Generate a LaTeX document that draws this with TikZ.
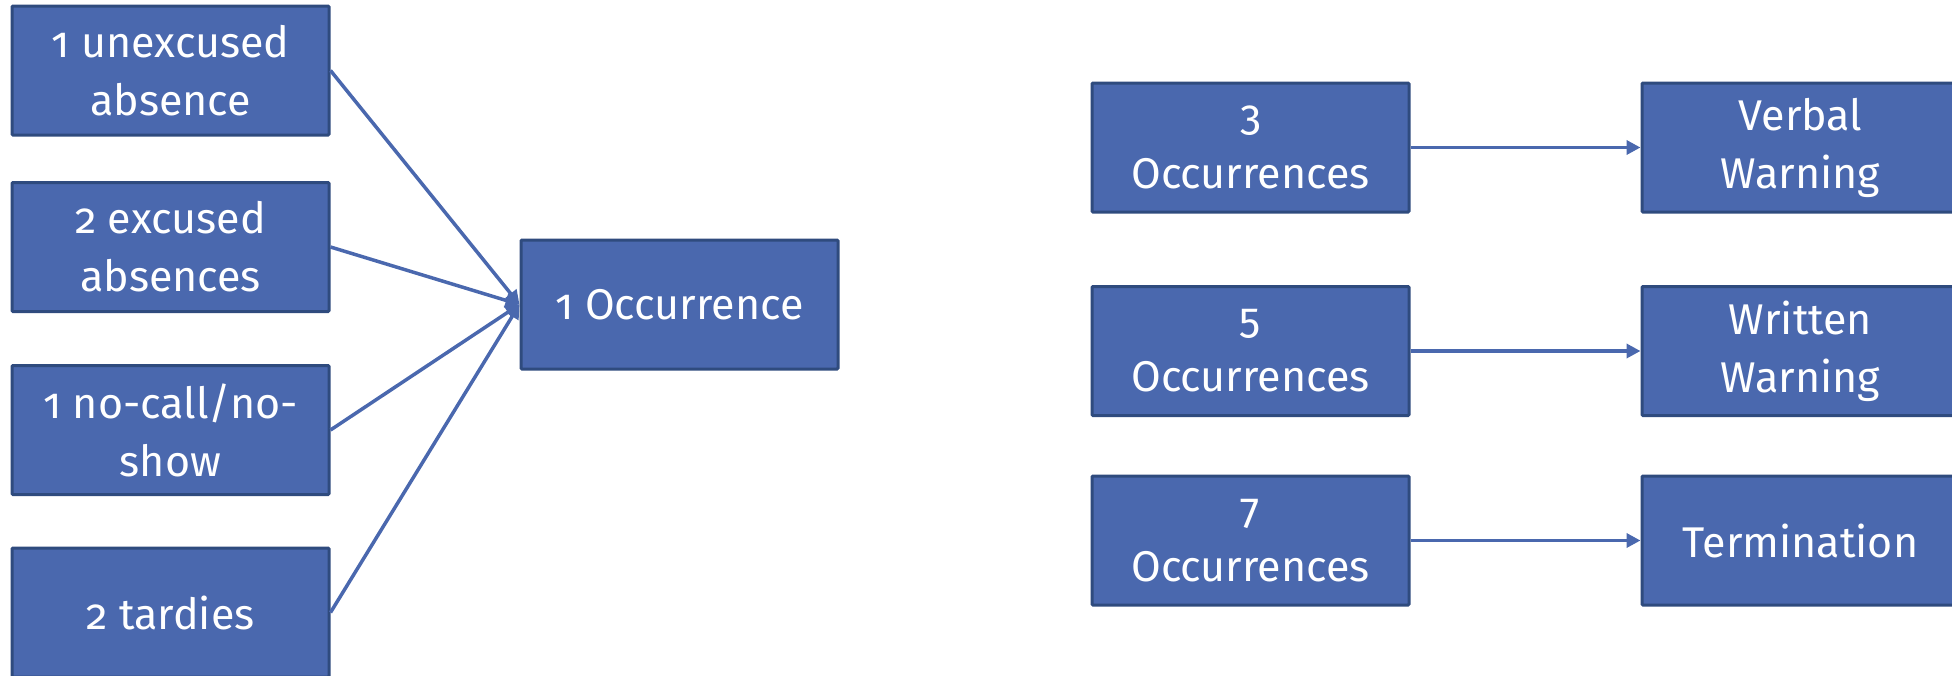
\documentclass[tikz,border=0pt]{standalone}
\usepackage{fontspec}
\setmainfont[Numbers=OldStyle]{Fira Sans}
\usetikzlibrary{arrows.meta}
\definecolor{boxfill}{HTML}{4A68AE}
\definecolor{boxline}{HTML}{2F4B7E}
\definecolor{conn}{HTML}{4A68AE}
\tikzset{
  x=1pt, y=-1pt,
  stepbox/.style={draw=boxline, line width=3pt, fill=boxfill, rounded corners=1pt,
    minimum width=317pt, minimum height=129pt, inner sep=0pt,
    text=white, align=center, font=\fontsize{43}{58}\selectfont},
  link/.style={draw=conn, line width=3.5pt},
  arr/.style={link, -{Triangle[length=14pt,width=14pt]}}
}
\begin{document}
\begin{tikzpicture}
\useasboundingbox (0,0) rectangle (1952,675);
\clip (0,0) rectangle (1952,675);
\node[stepbox] (a1) at (170.5,70.5) {1 unexcused\\absence};
\node[stepbox] (a2) at (170.5,247) {2 excused\\absences};
\node[stepbox] (a3) at (170.5,430) {1 no-call/no-\\show};
\node[stepbox] (a4) at (170.5,612.5) {2 tardies};
\node[stepbox] (occ) at (679.5,304.5) {1 Occurrence};
\node[stepbox] (o3) at (1250.5,147.5) {3\\Occurrences};
\node[stepbox] (o5) at (1250.5,351) {5\\Occurrences};
\node[stepbox] (o7) at (1250.5,540.5) {7\\Occurrences};
\node[stepbox] (vw) at (1800.5,147.5) {Verbal\\Warning};
\node[stepbox] (ww) at (1800.5,351) {Written\\Warning};
\node[stepbox] (te) at (1800.5,540.5) {Termination};
\draw[arr] (a1.east) -- (occ.west);
\draw[arr] (a2.east) -- (occ.west);
\draw[arr] (a3.east) -- (occ.west);
\draw[arr] (a4.east) -- (occ.west);
\draw[arr] (o3.east) -- (vw.west);
\draw[arr] (o5.east) -- (ww.west);
\draw[arr] (o7.east) -- (te.west);
\end{tikzpicture}
\end{document}
